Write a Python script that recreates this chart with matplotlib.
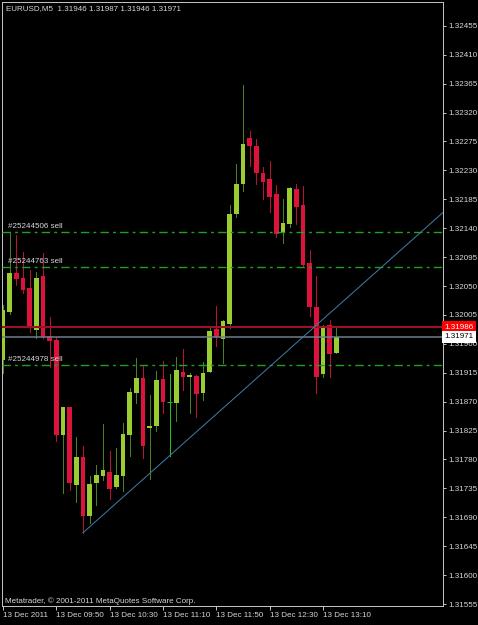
import matplotlib
matplotlib.use('Agg')
import matplotlib.pyplot as plt
import numpy as np

# ---------------- data ----------------
symbol_header = "EURUSD,M5  1.31946 1.31987 1.31946 1.31971"

opens = [1.31935, 1.32010, 1.32070, 1.32063, 1.32047, 1.31982, 1.32066, 1.31972, 1.31966, 1.31818,
         1.31862, 1.31740, 1.31784, 1.31692, 1.31743, 1.31754, 1.31761, 1.31737, 1.31754, 1.31818,
         1.31884, 1.31907, 1.31829, 1.31832, 1.31905, 1.31870, 1.31868, 1.31916, 1.31908, 1.31910,
         1.31884, 1.31916, 1.31983, 1.31968, 1.31991, 1.32162, 1.32209, 1.32281, 1.32268, 1.32226,
         1.32217, 1.32193, 1.32133, 1.32147, 1.32201, 1.32176, 1.32086, 1.32017, 1.31913, 1.31989,
         1.31946]
highs = [1.32021, 1.32134, 1.32130, 1.32103, 1.32075, 1.32072, 1.32102, 1.32002, 1.31971, 1.31862,
         1.31862, 1.31815, 1.31801, 1.31754, 1.31771, 1.31835, 1.31793, 1.31798, 1.31837, 1.31891,
         1.31938, 1.31927, 1.31880, 1.31918, 1.31933, 1.31913, 1.31940, 1.31952, 1.31915, 1.31912,
         1.31932, 1.31986, 1.32019, 1.31997, 1.32176, 1.32240, 1.32363, 1.32292, 1.32279, 1.32235,
         1.32245, 1.32207, 1.32186, 1.32204, 1.32209, 1.32206, 1.32106, 1.32066, 1.31989, 1.31997,
         1.31987]
lows = [1.31915, 1.32007, 1.32052, 1.32039, 1.31979, 1.31969, 1.31969, 1.31924, 1.31809, 1.31728,
        1.31733, 1.31714, 1.31666, 1.31681, 1.31709, 1.31748, 1.31719, 1.31736, 1.31731, 1.31785,
        1.31868, 1.31782, 1.31750, 1.31824, 1.31852, 1.31786, 1.31840, 1.31888, 1.31852, 1.31846,
        1.31873, 1.31916, 1.31957, 1.31930, 1.31985, 1.32158, 1.32198, 1.32237, 1.32209, 1.32186,
        1.32165, 1.32126, 1.32117, 1.32142, 1.32147, 1.32081, 1.32003, 1.31884, 1.31908, 1.31908,
        1.31946]
closes = [1.32013, 1.32070, 1.32061, 1.32044, 1.31986, 1.32063, 1.31971, 1.31965, 1.31818, 1.31862,
          1.31743, 1.31784, 1.31692, 1.31742, 1.31756, 1.31764, 1.31734, 1.31756, 1.31820, 1.31885,
          1.31907, 1.31801, 1.31832, 1.31904, 1.31870, 1.31870, 1.31919, 1.31908, 1.31912, 1.31882,
          1.31915, 1.31980, 1.31971, 1.31996, 1.32162, 1.32209, 1.32271, 1.32268, 1.32226, 1.32212,
          1.32189, 1.32131, 1.32148, 1.32203, 1.32173, 1.32083, 1.32017, 1.31908, 1.31988, 1.31944,
          1.31971]

x_tick_bars = [0, 8, 16, 24, 32, 40, 48]
x_tick_labels = ["13 Dec 2011", "13 Dec 09:50", "13 Dec 10:30", "13 Dec 11:10",
                 "13 Dec 11:50", "13 Dec 12:30", "13 Dec 13:10"]
y_ticks = [1.31555, 1.31600, 1.31645, 1.31690, 1.31735, 1.31780, 1.31825, 1.31870, 1.31915,
           1.31960, 1.32005, 1.32050, 1.32095, 1.32140, 1.32185, 1.32230, 1.32275, 1.32320,
           1.32365, 1.32410, 1.32455]
y_tick_labels = ["%.5f" % v for v in y_ticks]

order_labels = ["#25244506 sell", "#25244763 sell", "#25244978 sell"]
order_prices = [1.32134, 1.32079, 1.31927]

ask_price = 1.31986
bid_price = 1.31971

trend_bars = [12, 25]
trend_prices = [1.31666, 1.31786]

watermark = "Metatrader, \u00a9 2001-2011 MetaQuotes Software Corp."

x_limits = (-0.15, 66.0)
y_limits = (1.31552, 1.32492)

# ---------------- style ----------------
W, H = 478, 625
FONT = 'Liberation Sans'
FS = 5.8
TXT = '#d8d8d8'
BULL = '#9acd32'
BULL_WICK = '#4b8020'
BEAR = '#dc143c'
BEAR_WICK = '#b81432'
DOJI = '#22c022'
PX = 0.72  # points per pixel at dpi 100

plt.rcParams['font.family'] = [FONT, 'DejaVu Sans']

fig = plt.figure(figsize=(W / 100, H / 100), dpi=100, facecolor='black')
ax = fig.add_axes([2 / W, 1 - 606 / H, (443 - 2) / W, (606 - 2) / H])
ax.set_facecolor('black')

o = np.array(opens); h = np.array(highs); l = np.array(lows); c = np.array(closes)
x = np.arange(len(o))
bull = c > o
bear = c < o
doji = c == o

# wicks
ax.vlines(x[bull], l[bull], h[bull], color=BULL_WICK, lw=PX, zorder=2, antialiased=False)
ax.vlines(x[bear], l[bear], h[bear], color=BEAR_WICK, lw=PX, zorder=2, antialiased=False)
ax.vlines(x[doji], l[doji], h[doji], color=DOJI, lw=PX, zorder=2, antialiased=False)
# bodies
bw = 0.68
ax.bar(x[bull], (c - o)[bull], bottom=o[bull], width=bw, color=BULL, edgecolor=BULL,
       linewidth=0, zorder=3)
ax.bar(x[bear], (o - c)[bear], bottom=c[bear], width=bw, color=BEAR, edgecolor=BEAR,
       linewidth=0, zorder=3)
ax.hlines(o[doji], x[doji] - bw / 2, x[doji] + bw / 2, color=DOJI, lw=PX, zorder=3)

# order lines
for lbl, p in zip(order_labels, order_prices):
    ax.axhline(p, xmin=0.0, color='#1fa01f', lw=PX * 1.4, ls=(0, (6, 3, 2, 3)), zorder=4)
    ax.annotate(lbl, xy=(0.75, p), xytext=(0, 1.5), textcoords='offset points',
                ha='left', va='bottom', color=TXT, fontsize=FS, zorder=6)

# ask / bid lines
ax.axhline(ask_price, color='#a01025', lw=PX * 2, zorder=4)
ax.axhline(bid_price, color='#6f7f8c', lw=PX * 1.5, zorder=4)

# trendline ray
slope = (trend_prices[1] - trend_prices[0]) / (trend_bars[1] - trend_bars[0])
x_end = x_limits[1]
ax.plot([trend_bars[0], x_end], [trend_prices[0], trend_prices[0] + slope * (x_end - trend_bars[0])],
        color='#3f7ca8', lw=PX, zorder=5)

ax.set_xlim(*x_limits)
ax.set_ylim(*y_limits)

# axes styling
for s in ax.spines.values():
    s.set_color('#c0c0c0')
    s.set_linewidth(PX)
ax.yaxis.tick_right()
ax.set_yticks(y_ticks)
ax.set_yticklabels(y_tick_labels)
ax.set_xticks(x_tick_bars)
ax.set_xticklabels(x_tick_labels)
for t in ax.get_xticklabels():
    t.set_ha('left')
ax.tick_params(axis='y', colors='#c0c0c0', labelcolor=TXT, labelsize=FS, length=3 * PX,
               width=PX, pad=2 * PX, direction='out')
ax.tick_params(axis='x', colors='#c0c0c0', labelcolor=TXT, labelsize=FS, length=4 * PX,
               width=PX, pad=2 * PX, direction='out')

# price boxes
ytr = ax.get_yaxis_transform()
ax.text(1.003, ask_price, "%.5f" % ask_price, transform=ytr, ha='left', va='center',
        fontsize=FS, color='white', zorder=10, clip_on=False,
        bbox=dict(boxstyle='square,pad=0.3', facecolor='#ff0000', edgecolor='none'))
ax.text(1.003, bid_price, "%.5f" % bid_price, transform=ytr, ha='left', va='center',
        fontsize=FS, color='black', zorder=10, clip_on=False,
        bbox=dict(boxstyle='square,pad=0.3', facecolor='white', edgecolor='none'))

# header & watermark
fig.text(6 / W, 1 - 8.5 / H, symbol_header, ha='left', va='center', fontsize=FS, color=TXT)
fig.text(5 / W, 1 - 601 / H, watermark, ha='left', va='center', fontsize=FS, color=TXT)

fig.savefig('out.png', dpi=100, facecolor='black')
